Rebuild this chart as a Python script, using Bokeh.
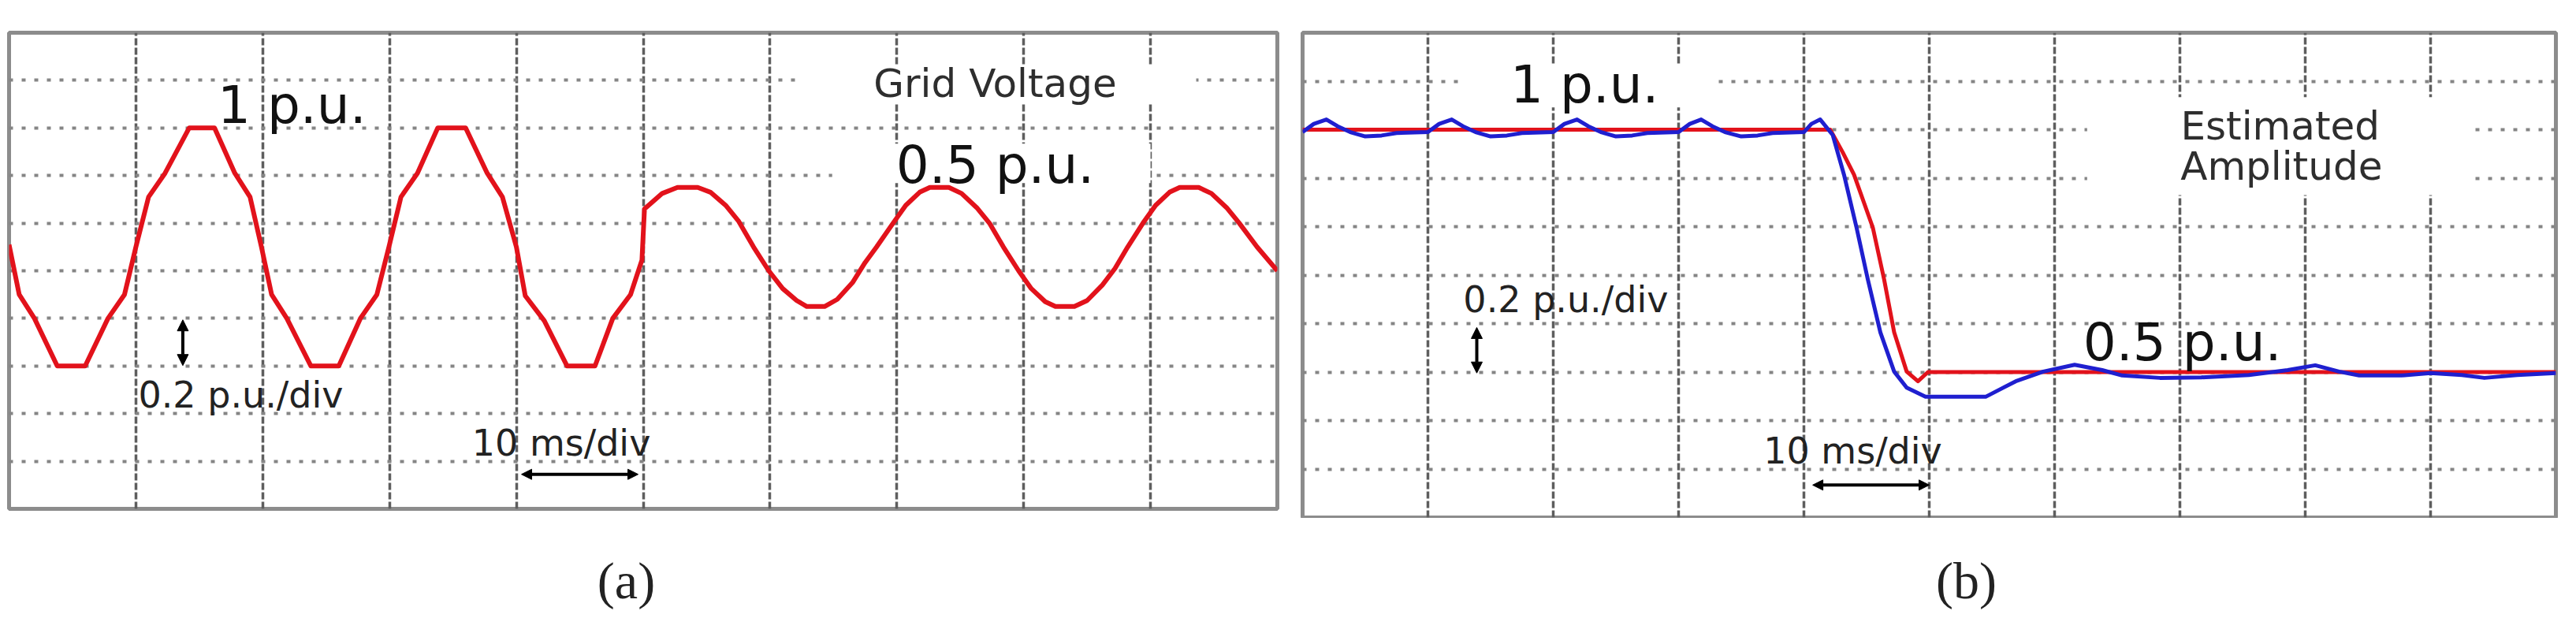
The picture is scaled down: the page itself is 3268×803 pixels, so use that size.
from bokeh.plotting import figure
from bokeh.models import Range1d, FixedTicker, Label, Arrow, NormalHead
from bokeh.layouts import row, column
from bokeh.embed import file_html
from bokeh.resources import INLINE

# ---------------- data ----------------
# (a) grid voltage, p.u., versus time in ms (10 ms/div)
time_a = [0.0, 0.8, 2.0, 3.8, 6.0, 7.8, 9.1, 10.0,
          11.0, 12.3, 14.2, 16.2, 17.8, 19.0, 19.9,
          20.7, 21.9, 23.8, 26.0, 27.7, 29.0, 29.95,
          30.9, 32.2, 33.8, 36.0, 37.7, 38.9, 40.0,
          40.7, 42.2, 44.0, 46.2, 47.6, 49.0, 49.9,
          50.1, 51.5, 52.7, 54.3, 55.3, 56.5, 57.5, 58.7, 59.9, 61.0, 62.1, 62.9,
          64.3, 65.3, 66.5, 67.5, 68.4, 69.7, 70.7, 71.8, 72.6, 74.1, 75.1, 76.3,
          77.3, 78.4, 79.6, 80.6, 81.7, 82.5, 84.0, 85.0, 86.2, 87.2, 88.2, 89.4,
          90.4, 91.5, 92.3, 93.8, 94.8, 96.0, 97.0, 98.4, 100.0]
volt_a = [0.02, -0.40, -0.60, -1.0, -1.0, -0.60, -0.40, 0.0,
          0.42, 0.62, 1.0, 1.0, 0.62, 0.42, 0.0,
          -0.40, -0.60, -1.0, -1.0, -0.60, -0.40, 0.0,
          0.42, 0.62, 1.0, 1.0, 0.62, 0.42, 0.0,
          -0.41, -0.62, -1.0, -1.0, -0.60, -0.40, -0.11,
          0.32, 0.45, 0.50, 0.50, 0.46, 0.35, 0.22, 0.0, -0.20, -0.35, -0.45, -0.50,
          -0.50, -0.44, -0.30, -0.13, 0.0, 0.20, 0.35, 0.46, 0.50, 0.50, 0.45, 0.33,
          0.20, 0.0, -0.20, -0.35, -0.46, -0.50, -0.50, -0.45, -0.32, -0.18, 0.0, 0.20,
          0.35, 0.46, 0.50, 0.50, 0.45, 0.33, 0.20, 0.0, -0.20]

# (b) amplitude, p.u., versus time in ms: reference (red) and estimate (blue)
time_b_ref = [0.0, 42.1, 43.1, 44.0, 45.5, 46.4, 47.2, 48.2, 49.1, 49.9, 100.0]
amp_b_ref = [1.0, 1.0, 0.953, 0.907, 0.798, 0.691, 0.582, 0.501, 0.481, 0.5, 0.5]

time_b_est = [0.0, 0.9, 1.9, 2.8, 3.8, 5.0, 6.3, 7.5,
              10.0, 10.9, 11.9, 12.8, 13.8, 15.0, 16.3, 17.5,
              20.0, 20.9, 21.9, 22.8, 23.8, 25.0, 26.3, 27.5,
              30.0, 30.9, 31.8, 32.7, 33.7, 35.0, 36.3, 37.5,
              40.0, 40.6, 41.3, 42.3, 43.2, 44.2, 45.1, 46.1, 47.2, 48.2, 49.7,
              54.5, 56.9, 59.1, 61.6, 63.8, 65.4, 68.4, 71.7, 75.5, 78.6, 80.8,
              82.7, 84.3, 87.7, 90.0, 92.5, 94.3, 96.9, 100.0]
amp_b_est = [0.995, 1.012, 1.021, 1.007, 0.995, 0.986, 0.988, 0.993,
             0.995, 1.012, 1.021, 1.007, 0.995, 0.986, 0.988, 0.993,
             0.995, 1.012, 1.021, 1.007, 0.995, 0.986, 0.988, 0.993,
             0.995, 1.012, 1.021, 1.007, 0.995, 0.986, 0.988, 0.993,
             0.995, 1.012, 1.021, 0.989, 0.907, 0.798, 0.691, 0.582, 0.501, 0.468, 0.449,
             0.449, 0.481, 0.501, 0.515, 0.504, 0.493, 0.488, 0.489, 0.494, 0.504, 0.514,
             0.501, 0.493, 0.493, 0.498, 0.494, 0.488, 0.494, 0.498]

# oscilloscope divisions
x_div_ticks = [10, 20, 30, 40, 50, 60, 70, 80, 90]
a_y_ticks = [round(-2.2 + 0.4 * k, 3) for k in range(0, 10)]
b_y_ticks = [round(0.2 + 0.1 * k, 3) for k in range(0, 10)]

captions = ["(a)", "(b)"]

FONT = "DejaVu Sans"
SERIF = "Liberation Serif"


def scope(frame_w, frame_h, y0, y1, yticks, bl, br, bt, bb):
    p = figure(frame_width=frame_w, frame_height=frame_h,
               x_range=Range1d(0, 100), y_range=Range1d(y0, y1),
               x_axis_location=None, y_axis_location=None,
               toolbar_location=None, output_backend="svg",
               min_border_left=bl, min_border_right=br,
               min_border_top=bt, min_border_bottom=bb,
               background_fill_color="white", border_fill_color="white",
               outline_line_color="#8c8c8c", outline_line_width=5)
    p.xgrid.ticker = FixedTicker(ticks=x_div_ticks)
    p.xgrid.grid_line_color = "#5e5e5e"
    p.xgrid.grid_line_width = 3.5
    p.xgrid.grid_line_dash = "9 3"
    p.ygrid.ticker = FixedTicker(ticks=yticks)
    p.ygrid.grid_line_color = "#858585"
    p.ygrid.grid_line_width = 4
    p.ygrid.grid_line_dash = "5 11"
    return p


def lab(p, x, y, text, size, color="#111111", font=FONT):
    p.add_layout(Label(x=x, y=y, text=text, text_align="center",
                       text_baseline="middle", text_font=font,
                       text_font_size=size, text_color=color))


def darrow(p, x0, y0, x1, y1, size):
    p.add_layout(Arrow(start=NormalHead(size=size, fill_color="black", line_color="black"),
                       end=NormalHead(size=size, fill_color="black", line_color="black"),
                       x_start=x0, y_start=y0, x_end=x1, y_end=y1,
                       line_width=4, line_color="black"))


def caption_fig(width, height, text, cx, cy):
    c = figure(width=width, height=height, x_range=Range1d(0, width), y_range=Range1d(0, height),
               x_axis_location=None, y_axis_location=None, toolbar_location=None,
               output_backend="svg", min_border=0, outline_line_color=None,
               background_fill_color="white", border_fill_color="white")
    c.grid.visible = False
    c.add_layout(Label(x=cx, y=cy, text=text, text_align="center", text_baseline="middle",
                       text_font=SERIF, text_font_size="66px", text_color="#222222"))
    return c


# ---------------- panel (a) ----------------
pa = scope(1609, 604, -2.2, 1.8, a_y_ticks, 11, 16, 41, 12)
pa.quad(left=[62.0, 64.9], right=[93.6, 90.0], bottom=[1.2, 0.536], top=[1.53, 0.868],
        fill_color="white", line_color=None)
pa.line(time_a, volt_a, line_color="#e2121b", line_width=6, line_join="round")
lab(pa, 22.3, 1.192, "1 p.u.", "66px")
lab(pa, 77.75, 1.376, "Grid Voltage", "50px", color="#2e2e2e")
lab(pa, 77.75, 0.69, "0.5 p.u.", "66px")
lab(pa, 18.27, -1.246, "0.2 p.u./div", "46px", color="#222222")
lab(pa, 43.54, -1.65, "10 ms/div", "46px", color="#222222")
darrow(pa, 13.7, -0.996, 13.7, -0.612, 14)
darrow(pa, 40.4, -1.91, 49.6, -1.91, 13)

# ---------------- panel (b) ----------------
pb = scope(1590, 615, 0.2, 1.2, b_y_ticks, 16, 10, 32, 10)
pb.quad(left=[62.6, 12.6], right=[93.4, 32.7], bottom=[0.865, 1.046], top=[1.067, 1.135],
        fill_color="white", line_color=None)
pb.line(time_b_ref, amp_b_ref, line_color="#e2121b", line_width=5, line_join="round")
pb.line(time_b_est, amp_b_est, line_color="#1f1fcf", line_width=5, line_join="round")
lab(pb, 22.5, 1.093, "1 p.u.", "66px")
lab(pb, 78.0, 1.008, "Estimated", "50px", color="#2e2e2e")
lab(pb, 78.1, 0.925, "Amplitude", "50px", color="#2e2e2e")
lab(pb, 21.0, 0.649, "0.2 p.u./div", "46px", color="#222222")
lab(pb, 70.2, 0.561, "0.5 p.u.", "66px")
lab(pb, 43.9, 0.337, "10 ms/div", "46px", color="#222222")
darrow(pb, 13.9, 0.498, 13.9, 0.592, 14)
darrow(pb, 40.7, 0.267, 50.0, 0.267, 13)

# ---------------- captions below ----------------
ca = caption_fig(1636, 130, captions[0], 794, 51)
cb = caption_fig(1616, 130, captions[1], 858, 51)

layout = column(row(pa, pb), row(ca, cb))
open("out.html", "w").write(file_html(layout, INLINE))
